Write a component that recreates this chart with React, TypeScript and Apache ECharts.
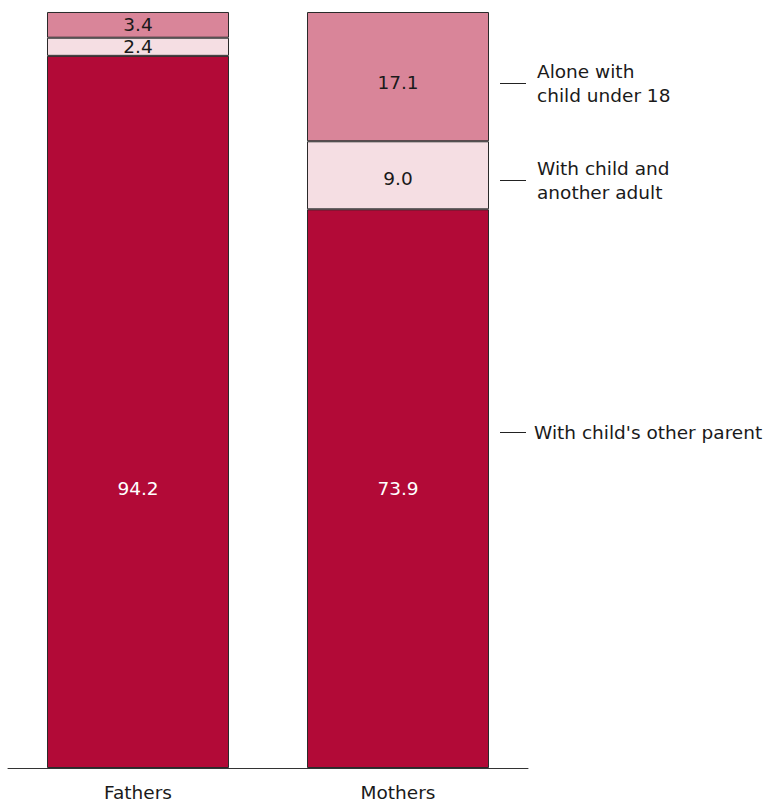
import React, { useEffect, useRef } from "react";
import * as echarts from "echarts";

const categories = ["Fathers", "Mothers"];
const otherParent = [94.2, 73.9];
const childAndAdult = [2.4, 9.0];
const aloneWithChild = [3.4, 17.1];
const seriesNames = ["With child's other parent", "With child and\nanother adult", "Alone with\nchild under 18"];

const FONT = "DejaVu Sans";
const FS = 18.5;

export default function App() {
  const ref = useRef<HTMLDivElement>(null);
  useEffect(() => {
    const chart = echarts.init(ref.current!, null, { renderer: "svg" });
    const mkSeries = (name: string, data: number[], color: string, labelColor: string, extra: any = {}, mothersOffset = 0) => ({
      name,
      type: "bar",
      stack: "total",
      data: data.map((v, i) => (i === 1 && mothersOffset ? { value: v, label: { offset: [0, mothersOffset] } } : v)),
      barWidth: "70%",
      itemStyle: { color, borderColor: "#2a2a2a", borderWidth: 1 },
      label: {
        show: true,
        position: "inside",
        color: labelColor,
        fontFamily: FONT,
        fontSize: FS,
        formatter: (p: any) => p.value.toFixed(1),
        ...extra,
      },
    });
    const textStyle = { font: `${FS}px '${FONT}'`, fill: "#1a1a1a", verticalAlign: "middle", lineHeight: 24 };
    chart.setOption({
      animation: false,
      grid: { left: 8, right: 242, top: 12, bottom: 36 },
      xAxis: {
        type: "category",
        data: categories,
        axisLine: { lineStyle: { color: "#333", width: 1 } },
        axisTick: { show: false },
        axisLabel: { color: "#1a1a1a", fontFamily: FONT, fontSize: FS, margin: 15 },
      },
      yAxis: { type: "value", min: 0, max: 100, show: false, splitLine: { show: false } },
      series: [
        mkSeries(seriesNames[0], otherParent, "#B20A37", "#ffffff", { position: "insideBottom", distance: 270 }),
        mkSeries(seriesNames[1], childAndAdult, "#F5DEE3", "#1a1a1a", {}, 3),
        mkSeries(seriesNames[2], aloneWithChild, "#D98599", "#1a1a1a", {}, 6),
      ],
      graphic: [
        { type: "line", shape: { x1: 500, y1: 83.5, x2: 526, y2: 83.5 }, style: { stroke: "#222", lineWidth: 1 } },
        { type: "text", x: 537, y: 83, style: { text: seriesNames[2], ...textStyle } },
        { type: "line", shape: { x1: 500, y1: 180.5, x2: 526, y2: 180.5 }, style: { stroke: "#222", lineWidth: 1 } },
        { type: "text", x: 537, y: 180, style: { text: seriesNames[1], ...textStyle } },
        { type: "line", shape: { x1: 500, y1: 432.5, x2: 526, y2: 432.5 }, style: { stroke: "#222", lineWidth: 1 } },
        { type: "text", x: 534, y: 432, style: { text: seriesNames[0], ...textStyle } },
      ],
    });
    return () => chart.dispose();
  }, []);
  return <div ref={ref} style={{ width: 770, height: 804, position: "absolute", left: 0, top: 0 }} />;
}
